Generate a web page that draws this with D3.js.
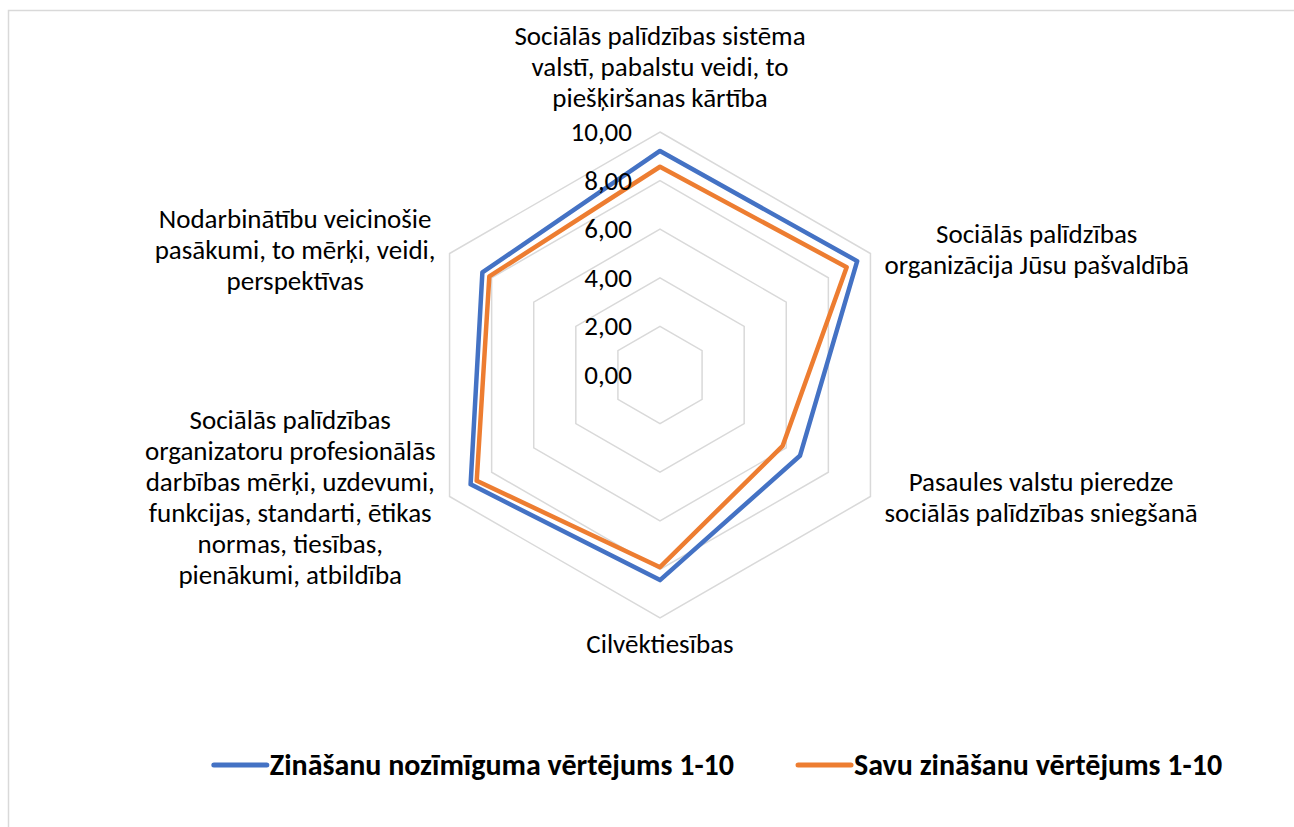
<!DOCTYPE html>
<html>
<head>
<meta charset="utf-8">
<script src="https://cdn.jsdelivr.net/npm/d3@7"></script>
<style>
  body { margin: 0; background: #fff; }
  svg { display: block; font-family: Carlito, "Noto Sans", sans-serif; }
</style>
</head>
<body>
<svg id="chart" width="1294" height="827"></svg>
<script>
// categories, clockwise from the top
const categories = [
    ["Sociālās palīdzības sistēma", "valstī, pabalstu veidi, to", "piešķiršanas kārtība"],
    ["Sociālās palīdzības", "organizācija Jūsu pašvaldībā"],
    ["Pasaules valstu pieredze", "sociālās palīdzības sniegšanā"],
    ["Cilvēktiesības"],
    ["Sociālās palīdzības", "organizatoru profesionālās", "darbības mērķi, uzdevumi,", "funkcijas, standarti, ētikas", "normas, tiesības,", "pienākumi, atbildība"],
    ["Nodarbinātību veicinošie", "pasākumi, to mērķi, veidi,", "perspektīvas"]
]
const importance = [9.22, 9.37, 6.65, 8.44, 9.0, 8.44]
const ownKnowledge = [8.57, 8.87, 5.83, 7.91, 8.71, 8.11]
const seriesNames = ["Zināšanu nozīmīguma vērtējums 1-10", "Savu zināšanu vērtējums 1-10"]
const seriesColors = ["#4472C4", "#ED7D31"]
const ticks = [0, 2, 4, 6, 8, 10]

const svg = d3.select('#chart')
const cx = 660, cy = 375, R = 243

// chart frame
svg.append('rect')
    .attr('x', 8.5).attr('y', 10.5)
    .attr('width', 1400).attr('height', 900)
    .attr('fill', 'none')
    .attr('stroke', '#d9d9d9')
    .attr('stroke-width', 1.5)

const r = d3.scaleLinear().domain([0, 10]).range([0, R])
const angle = i => i * 2 * Math.PI / categories.length

const g = svg.append('g').attr('transform', `translate(${cx},${cy})`)

// grid hexagons
const ring = d3.lineRadial()
    .angle((d, i) => angle(i))
    .radius(d => r(d))
    .curve(d3.curveLinearClosed)

g.selectAll('.grid')
    .data(ticks.filter(t => t > 0))
    .join('path')
    .attr('class', 'grid')
    .attr('d', t => ring(categories.map(() => t)))
    .attr('fill', 'none')
    .attr('stroke', '#d9d9d9')
    .attr('stroke-width', 1.5)

// series
const series = [importance, ownKnowledge]
g.selectAll('.series')
    .data(series)
    .join('path')
    .attr('class', 'series')
    .attr('d', d => ring(d))
    .attr('fill', 'none')
    .attr('stroke', (d, i) => seriesColors[i])
    .attr('stroke-width', 4.5)
    .attr('stroke-linejoin', 'round')

// tick labels
const fmt = d3.format('.2f')
g.selectAll('.tick')
    .data(ticks)
    .join('text')
    .attr('class', 'tick')
    .attr('x', -28)
    .attr('y', t => -r(t) + 9)
    .attr('text-anchor', 'end')
    .attr('font-size', 27)
    .attr('fill', '#000')
    .text(t => fmt(t).replace('.', ','))

// category labels
const lineH = 31, pad = 14
categories.forEach((lines, i) => {
    const a = angle(i)
    const vx = cx + Math.sin(a) * R
    const vy = cy - Math.cos(a) * R
    const t = svg.append('text')
        .attr('font-size', 27)
        .attr('fill', '#000')
        .attr('text-anchor', 'middle')
    lines.forEach((l, j) => t.append('tspan').attr('x', 0).attr('dy', j ? lineH : 0).text(l))
    const w = d3.max(t.selectAll('tspan').nodes(), n => n.getComputedTextLength())
    const h = (lines.length - 1) * lineH
    let x = vx, y
    const s = Math.sin(a)
    if (Math.abs(s) < 0.01) {
        y = Math.cos(a) > 0 ? vy - 25 - h : vy + 35
    } else {
        x = s > 0 ? vx + pad + w / 2 : vx - pad - w / 2
        y = vy - h / 2 + (Math.cos(a) > 0 ? 5 : 10)
    }
    t.attr('transform', `translate(${x},${y})`)
})

// legend
const legend = svg.append('g')
const items = legend.selectAll('g')
    .data(seriesNames)
    .join('g')
items.append('line')
    .attr('x1', 0).attr('x2', 53)
    .attr('stroke', (d, i) => seriesColors[i])
    .attr('stroke-width', 5)
    .attr('stroke-linecap', 'round')
items.append('text')
    .attr('x', 56)
    .attr('y', 10)
    .attr('font-size', 30)
    .attr('font-weight', 'bold')
    .text(d => d)
let off = 0
const widths = items.nodes().map(n => n.getBBox().width)
const gap = 64
const total = d3.sum(widths) + gap
items.attr('transform', (d, i) => {
    const x = off
    off += widths[i] + gap
    return `translate(${x},0)`
})
legend.attr('transform', `translate(${718 - total / 2},765)`)
</script>
</body>
</html>
